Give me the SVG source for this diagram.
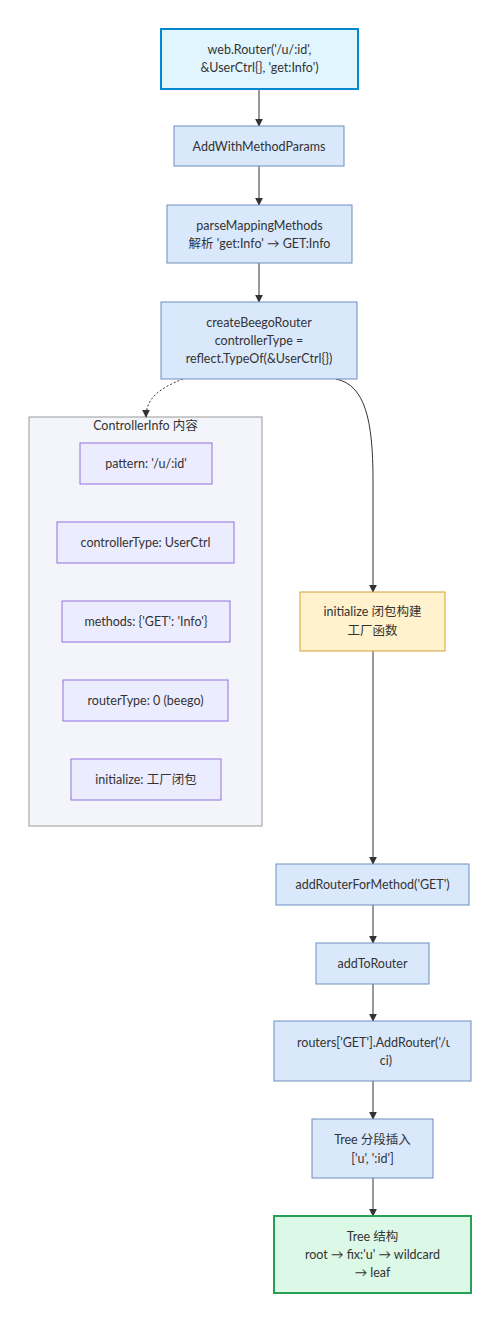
<svg xmlns="http://www.w3.org/2000/svg" width="500" height="1322" viewBox="0 0 500 1322">
<defs>
<style>
text{font-family:Lato,"Noto Sans","Noto Sans CJK SC",sans-serif;font-size:12.5px;fill:#333;text-anchor:middle;dominant-baseline:central}
.blue{fill:#dae8fc;stroke:#6c8ebf;stroke-width:1}
.start{fill:#e1f5fe;stroke:#0288d1;stroke-width:2}
.sub{fill:#ececff;stroke:#9370db;stroke-width:1}
.yel{fill:#fff2cc;stroke:#d6a13a;stroke-width:1}
.grn{fill:#dcf8e6;stroke:#27a055;stroke-width:2}
.edge{fill:none;stroke:#333;stroke-width:1}
.dot{fill:none;stroke:#333;stroke-width:1;stroke-dasharray:2 2}
</style>
<marker id="ah" viewBox="0 0 10 10" refX="9" refY="5" markerWidth="8" markerHeight="8" orient="auto-start-reverse" markerUnits="userSpaceOnUse"><path d="M0,0 L10,5 L0,10 z" fill="#333"/></marker>
<clipPath id="clipR"><rect x="274" y="1021" width="176" height="60"/></clipPath>
</defs>
<g id="cluster-ControllerInfo">
<rect x="29" y="417" width="233" height="409" fill="#f3f5fa" stroke="#9a9a9a" stroke-width="1"/>
<text x="145.5" y="425">ControllerInfo 内容</text>
</g>
<g id="edges">
<path class="edge" d="M259,89 L259,126" marker-end="url(#ah)"/>
<path class="edge" d="M259,166 L259,205" marker-end="url(#ah)"/>
<path class="edge" d="M259,263 L259,302" marker-end="url(#ah)"/>
<path class="dot" d="M183,379 C160,388 146,398 146,417" marker-end="url(#ah)"/>
<path class="edge" d="M336,379 C365,385 373,420 373,480 L373,592" marker-end="url(#ah)"/>
<path class="edge" d="M373,651 L373,864" marker-end="url(#ah)"/>
<path class="edge" d="M373,905 L373,943" marker-end="url(#ah)"/>
<path class="edge" d="M373,984 L373,1021" marker-end="url(#ah)"/>
<path class="edge" d="M373,1081 L373,1119" marker-end="url(#ah)"/>
<path class="edge" d="M373,1178 L373,1216" marker-end="url(#ah)"/>
</g>
<g id="node-webRouter">
<rect class="start" x="161" y="29" width="197" height="60"/>
<text x="259.5" y="49">web.Router('/u/:id',</text>
<text x="259.5" y="67">&amp;UserCtrl{}, 'get:Info')</text>
</g>
<g id="node-AddWithMethodParams">
<rect class="blue" x="174" y="126" width="170" height="40"/>
<text x="259" y="146">AddWithMethodParams</text>
</g>
<g id="node-parseMappingMethods">
<rect class="blue" x="167" y="205" width="185" height="58"/>
<text x="259.5" y="225">parseMappingMethods</text>
<text x="259.5" y="243">解析 'get:Info' → GET:Info</text>
</g>
<g id="node-createBeegoRouter">
<rect class="blue" x="161" y="302" width="196" height="77"/>
<text x="259" y="322">createBeegoRouter</text>
<text x="259" y="340">controllerType =</text>
<text x="259" y="358">reflect.TypeOf(&amp;UserCtrl{})</text>
</g>
<g id="node-pattern">
<rect class="sub" x="80" y="443" width="132" height="41"/>
<text x="146" y="463.5">pattern: '/u/:id'</text>
</g>
<g id="node-controllerType">
<rect class="sub" x="57" y="522" width="177" height="41"/>
<text x="145.5" y="542.5">controllerType: UserCtrl</text>
</g>
<g id="node-methods">
<rect class="sub" x="62" y="601" width="168" height="41"/>
<text x="146" y="621.5">methods: {'GET': 'Info'}</text>
</g>
<g id="node-routerType">
<rect class="sub" x="63" y="680" width="165" height="41"/>
<text x="145.5" y="700.5">routerType: 0 (beego)</text>
</g>
<g id="node-initializeField">
<rect class="sub" x="71" y="759" width="150" height="41"/>
<text x="146" y="779.5">initialize: 工厂闭包</text>
</g>
<g id="node-initialize">
<rect class="yel" x="300" y="592" width="145" height="59"/>
<text x="372.5" y="611">initialize 闭包构建</text>
<text x="372.5" y="630">工厂函数</text>
</g>
<g id="node-addRouterForMethod">
<rect class="blue" x="276" y="864" width="193" height="41"/>
<text x="372.5" y="884.5">addRouterForMethod('GET')</text>
</g>
<g id="node-addToRouter">
<rect class="blue" x="316" y="943" width="113" height="41"/>
<text x="372.5" y="963.5">addToRouter</text>
</g>
<g id="node-routersAddRouter">
<rect class="blue" x="274" y="1021" width="197" height="60"/>
<text x="297" y="1042" style="text-anchor:start" clip-path="url(#clipR)">routers['GET'].AddRouter('/u/:id',</text>
<text x="386" y="1060">ci)</text>
</g>
<g id="node-treeInsert">
<rect class="blue" x="312" y="1119" width="121" height="59"/>
<text x="372.5" y="1139">Tree 分段插入</text>
<text x="372.5" y="1158">['u', ':id']</text>
</g>
<g id="node-treeStructure">
<rect class="grn" x="274" y="1216" width="197" height="77"/>
<text x="372.5" y="1236">Tree 结构</text>
<text x="372.5" y="1254">root → fix:'u' → wildcard</text>
<text x="372.5" y="1272">→ leaf</text>
</g>
</svg>
